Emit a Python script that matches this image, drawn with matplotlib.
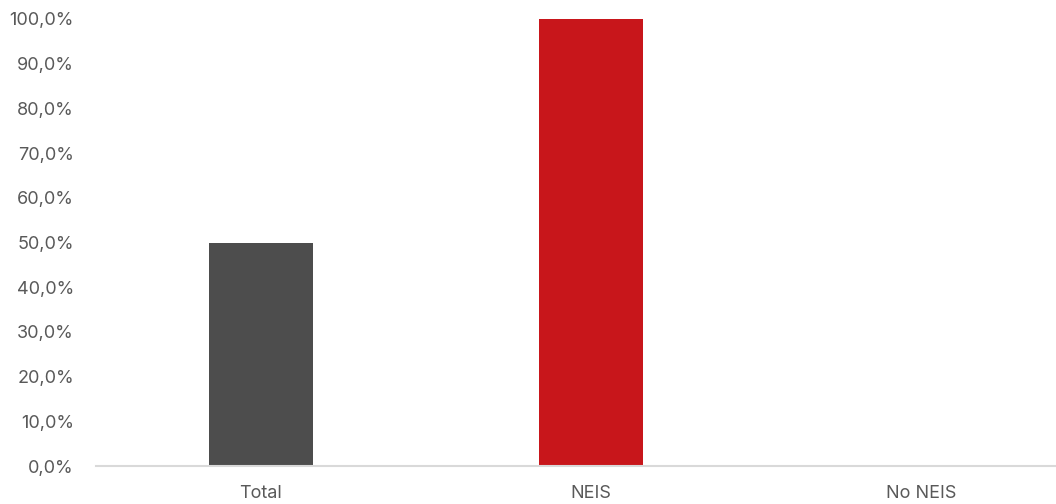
import matplotlib
matplotlib.use('Agg')
import matplotlib.pyplot as plt
from matplotlib.ticker import FuncFormatter

# data
categories = ['Total', 'NEIS', 'No NEIS']
values = [50.0, 100.0, 0.0]
colors = ['#4d4d4d', '#c8161b', '#4d4d4d']

plt.rcParams['font.family'] = ['Inter', 'DejaVu Sans']

fig = plt.figure(figsize=(10.56, 5.04), dpi=100)
ax = fig.add_axes([96 / 1056, 38 / 504, 990 / 1056, 447 / 504])

x = range(len(categories))
ax.bar(x, values, width=0.318, color=colors)

ax.set_xlim(-0.5, 2.5)
ax.set_ylim(0, 100)
ax.set_yticks(range(0, 101, 10))
ax.yaxis.set_major_formatter(FuncFormatter(lambda v, p: f'{v:.1f}%'.replace('.', ',')))
ax.set_xticks(list(x))
ax.set_xticklabels(categories)

for s in ['top', 'right', 'left']:
    ax.spines[s].set_visible(False)
ax.spines['bottom'].set_color('#d9d9d9')
ax.spines['bottom'].set_linewidth(1.5)
ax.tick_params(axis='both', length=0, labelsize=13, colors='#595959')
ax.tick_params(axis='y', pad=16)
ax.tick_params(axis='x', pad=14)

fig.savefig('out.png', dpi=100)
